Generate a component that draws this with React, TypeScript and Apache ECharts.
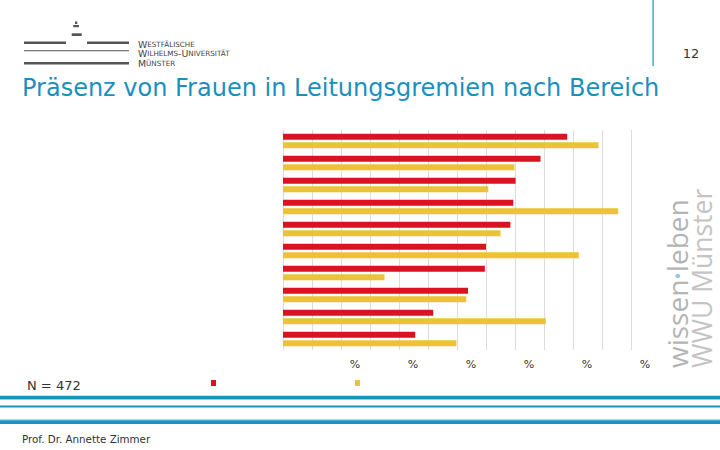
import React, { useEffect, useRef } from 'react';
import * as echarts from 'echarts';

const categories = ['Bereich 1', 'Bereich 2', 'Bereich 3', 'Bereich 4', 'Bereich 5', 'Bereich 6', 'Bereich 7', 'Bereich 8', 'Bereich 9', 'Bereich 10'];
const seriesNames = ['Serie 1', 'Serie 2'];
const redValues = [49.0, 44.4, 40.1, 39.7, 39.2, 35.0, 34.8, 31.9, 25.9, 22.8];
const yellowValues = [54.4, 39.9, 35.4, 57.8, 37.5, 51.0, 17.5, 31.6, 45.3, 29.9];
const axisMax = 60;
const axisStep = 5;
const labelStep = 10;
const tickLabel = '%';

const BLUE = '#1a93c0';
const GREY = '#555555';

export default function App() {
  const ref = useRef<HTMLDivElement>(null);
  useEffect(() => {
    const chart = echarts.init(ref.current!, null, { renderer: 'svg' });
    const capsRich = {
      b: { fontSize: 9.4, lineHeight: 8, fontFamily: 'DejaVu Sans' },
      s: { fontSize: 7.2, lineHeight: 8, fontFamily: 'DejaVu Sans' },
    };
    const capsStyle = { fill: '#444', fontFamily: 'DejaVu Sans', lineHeight: 8, textVerticalAlign: 'middle', verticalAlign: 'middle', rich: capsRich };
    const graphic: any[] = [
      // logo
      { type: 'rect', shape: { x: 75, y: 21.5, width: 2.3, height: 2.5 }, style: { fill: GREY } },
      { type: 'rect', shape: { x: 73.3, y: 25, width: 5.7, height: 2.2 }, style: { fill: GREY } },
      { type: 'rect', shape: { x: 71.7, y: 33.3, width: 10, height: 2.7 }, style: { fill: GREY } },
      { type: 'rect', shape: { x: 24, y: 41.5, width: 42, height: 2.5 }, style: { fill: GREY } },
      { type: 'rect', shape: { x: 87, y: 41.5, width: 42, height: 2.5 }, style: { fill: GREY } },
      { type: 'rect', shape: { x: 24, y: 50.2, width: 105, height: 1 }, style: { fill: GREY } },
      { type: 'rect', shape: { x: 24, y: 62, width: 105, height: 2.5 }, style: { fill: GREY } },
      { type: 'text', x: 138, y: 44, style: { ...capsStyle, text: '{b|W}{s|ESTFÄLISCHE}' } },
      { type: 'text', x: 138, y: 53.8, style: { ...capsStyle, text: '{b|W}{s|ILHELMS}{b|-U}{s|NIVERSITÄT}' } },
      { type: 'text', x: 138, y: 63.4, style: { ...capsStyle, text: '{b|M}{s|ÜNSTER}' } },
      // top right
      { type: 'rect', shape: { x: 652.5, y: 0, width: 1.2, height: 66 }, style: { fill: BLUE } },
      {
        type: 'text', x: 691, y: 53,
        style: { text: '12', fill: '#333', fontSize: 13, fontFamily: 'DejaVu Sans', textAlign: 'center', align: 'center', textVerticalAlign: 'middle', verticalAlign: 'middle' },
      },
      // title
      {
        type: 'text', x: 22, y: 88,
        style: { text: 'Präsenz von Frauen in Leitungsgremien nach Bereich', fill: '#1b8fc0', fontSize: 24, fontFamily: 'DejaVu Sans', textVerticalAlign: 'middle', verticalAlign: 'middle' },
      },
      // right side claim
      {
        type: 'text', x: 691, y: 368, rotation: Math.PI / 2,
        style: {
          text: '{a|wissen}{d|•}{a|leben}', fill: '#b4b4b4', fontFamily: 'Open Sans', fontSize: 28,
          textAlign: 'left', align: 'left', textVerticalAlign: 'bottom', verticalAlign: 'bottom',
          rich: { a: { fontSize: 28, fontFamily: 'Open Sans' }, d: { fontSize: 20, fill: '#8fc9e3', fontFamily: 'Open Sans' } },
        },
      },
      {
        type: 'text', x: 715, y: 368, rotation: Math.PI / 2,
        style: { text: 'WWU Münster', fill: '#c4c4c4', fontFamily: 'Open Sans', fontSize: 26.5, textAlign: 'left', align: 'left', textVerticalAlign: 'bottom', verticalAlign: 'bottom' },
      },
      // N
      {
        type: 'text', x: 27, y: 385,
        style: { text: 'N = 472', fill: '#333', fontSize: 13, fontFamily: 'DejaVu Sans', textVerticalAlign: 'middle', verticalAlign: 'middle' },
      },
      // bottom stripes
      { type: 'rect', shape: { x: 0, y: 395.7, width: 720, height: 3.3 }, style: { fill: BLUE } },
      { type: 'rect', shape: { x: 0, y: 399, width: 720, height: 1 }, style: { fill: '#8fd0e8' } },
      { type: 'rect', shape: { x: 0, y: 405.4, width: 720, height: 2 }, style: { fill: BLUE } },
      { type: 'rect', shape: { x: 0, y: 419.3, width: 720, height: 1 }, style: { fill: '#8fd0e8' } },
      { type: 'rect', shape: { x: 0, y: 420.3, width: 720, height: 3.7 }, style: { fill: BLUE } },
      {
        type: 'text', x: 22, y: 439,
        style: { text: 'Prof. Dr. Annette Zimmer', fill: '#333', fontSize: 10.3, fontFamily: 'DejaVu Sans', textVerticalAlign: 'middle', verticalAlign: 'middle' },
      },
    ];

    chart.setOption({
      animation: false,
      backgroundColor: '#ffffff',
      grid: { left: 283, right: 89, top: 130, bottom: 100, containLabel: false },
      legend: [
        { data: [seriesNames[0]], left: 211, top: 380, itemWidth: 5, itemHeight: 6, icon: 'rect', padding: 0, itemGap: 0, selectedMode: false, formatter: () => '' },
        { data: [seriesNames[1]], left: 355, top: 380, itemWidth: 5, itemHeight: 6, icon: 'rect', padding: 0, itemGap: 0, selectedMode: false, formatter: () => '' },
      ],
      xAxis: {
        type: 'value', min: 0, max: axisMax, interval: axisStep,
        axisLine: { show: false }, axisTick: { show: false },
        splitLine: { show: true, lineStyle: { color: '#dcdcdc', width: 1 } },
        axisLabel: {
          formatter: (v: number) => (v > 0 && v % labelStep === 0 ? tickLabel : ''),
          padding: [0, 0, 0, 28], margin: 9, fontSize: 11, color: '#333', fontFamily: 'DejaVu Sans',
        },
      },
      yAxis: {
        type: 'category', data: categories, inverse: true,
        axisLine: { show: false }, axisTick: { show: false }, axisLabel: { show: false }, splitLine: { show: false },
      },
      series: [
        { name: seriesNames[0], type: 'bar', data: redValues, barWidth: 6, barGap: '45%', itemStyle: { color: '#d9131f' } },
        { name: seriesNames[1], type: 'bar', data: yellowValues, barWidth: 6, barGap: '45%', itemStyle: { color: '#eac435' } },
      ],
      graphic,
    });
    return () => chart.dispose();
  }, []);
  return <div ref={ref} style={{ position: 'absolute', left: 0, top: 0, width: 720, height: 450 }} />;
}
